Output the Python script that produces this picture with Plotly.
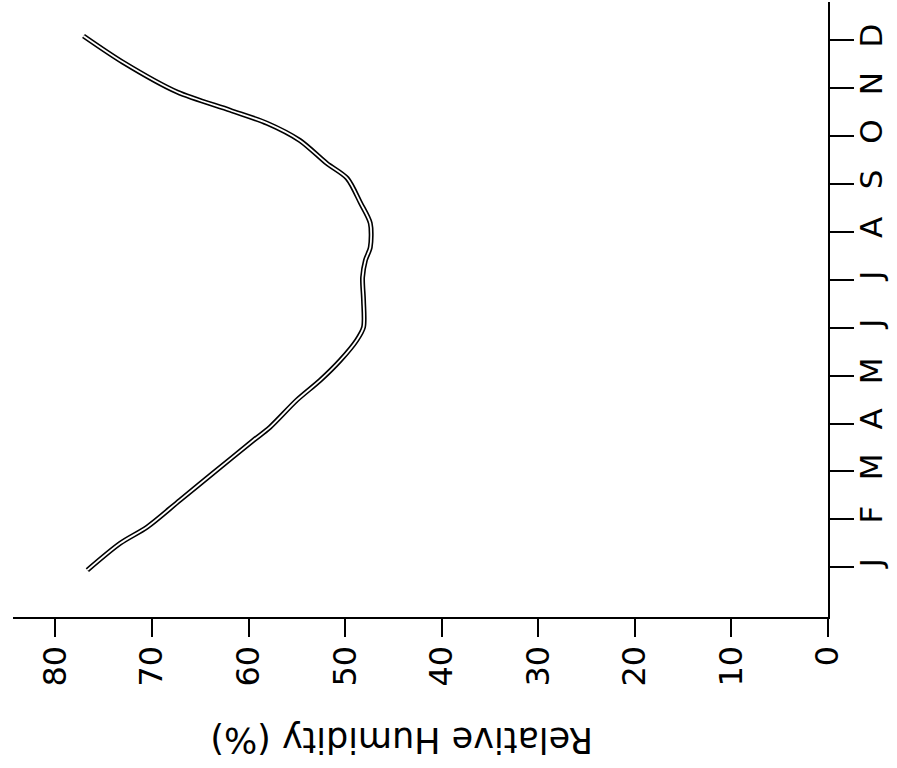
import plotly.graph_objects as go

# Month axis (vertical in the picture)
month_labels = ["J", "F", "M", "A", "M", "J", "J", "A", "S", "O", "N", "D"]
month_ticks = list(range(12))

# Humidity axis (horizontal, reversed)
hum_ticks = [0, 10, 20, 30, 40, 50, 60, 70, 80]
hum_labels = ["0", "10", "20", "30", "40", "50", "60", "70", "80"]

# Curve: position in months (0 = Jan) and relative humidity (%)
curve_month = [-0.06, 0.50, 0.84, 1.40, 1.96, 2.65, 2.92, 3.49, 3.90, 4.32, 4.74,
               5.01, 5.57, 6.05, 6.41, 6.68, 7.18, 7.60, 8.12, 8.43, 8.91, 9.27,
               9.54, 9.92, 10.54, 11.09]
curve_hum = [76.7, 73.3, 70.5, 67.1, 63.7, 59.5, 57.8, 55.0, 52.6, 50.5, 48.8,
             48.1, 48.1, 48.2, 47.9, 47.4, 47.4, 48.4, 49.8, 51.9, 54.7, 58.1,
             61.9, 67.4, 73.0, 77.1]

FONT = "DejaVu Sans"

fig = go.Figure()
fig.add_trace(go.Scatter(x=curve_hum, y=curve_month, mode="lines",
                         line=dict(color="black", width=5, shape="spline", smoothing=0.8),
                         hoverinfo="skip", showlegend=False))
fig.add_trace(go.Scatter(x=curve_hum, y=curve_month, mode="lines",
                         line=dict(color="white", width=1.8, shape="spline", smoothing=0.8),
                         hoverinfo="skip", showlegend=False))

fig.update_layout(
    template="none",
    width=897, height=768,
    margin=dict(l=13, r=69, t=2, b=151, autoexpand=False),
    paper_bgcolor="white", plot_bgcolor="white",
    showlegend=False,
    xaxis=dict(range=[84.4, 0], tickvals=hum_ticks, ticktext=hum_labels,
               tickangle=-90, showline=True, linecolor="black", linewidth=2,
               ticks="outside", ticklen=18, tickwidth=2, tickcolor="black",
               showgrid=False, zeroline=False, automargin=False,
               tickfont=dict(family=FONT, size=32, color="black"),
               ticklabelstandoff=-4),
    yaxis=dict(range=[-1.04, 11.8], tickvals=month_ticks, ticktext=month_labels,
               side="right", tickangle=-90, showline=True, linecolor="black",
               linewidth=2, ticks="outside", ticklen=24, tickwidth=2,
               tickcolor="black", showgrid=False, zeroline=False, automargin=False,
               tickfont=dict(family=FONT, size=31, color="black"),
               ticklabelstandoff=-9),
    annotations=[dict(text="Relative Humidity (%)", xref="paper", yref="paper",
                      x=0.476, y=-0.2, xanchor="center", yanchor="middle",
                      textangle=180, showarrow=False,
                      font=dict(family=FONT, size=35, color="black"))],
)

fig.write_html("out.html")
